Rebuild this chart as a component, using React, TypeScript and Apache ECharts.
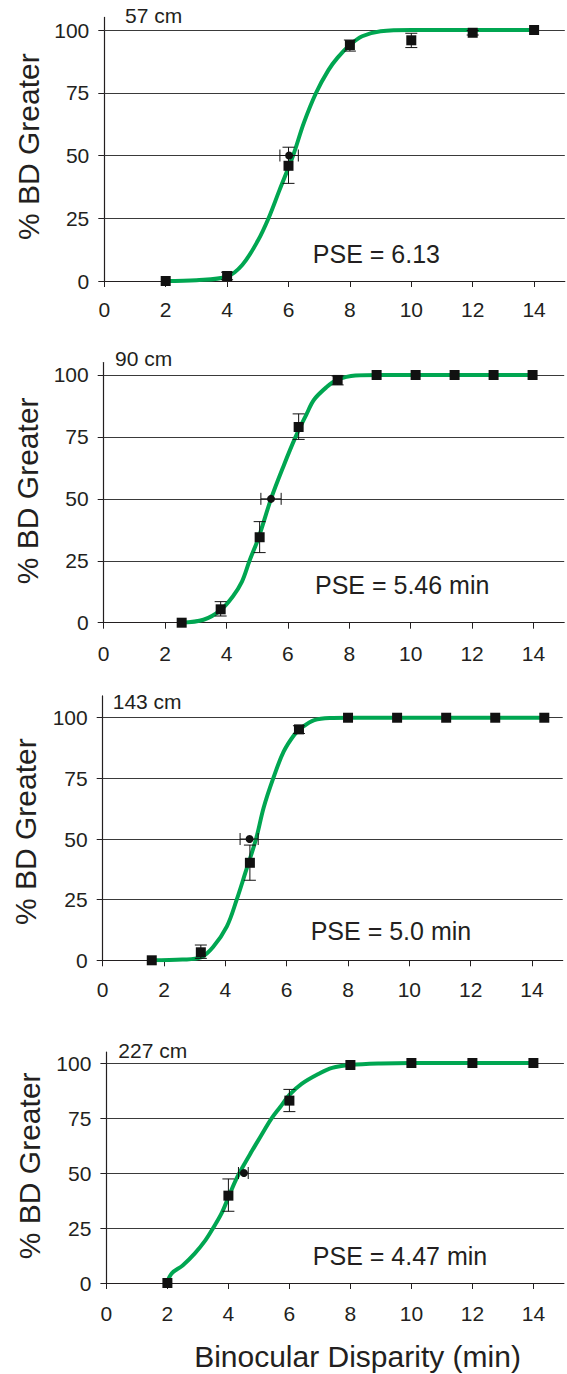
import React, { useEffect, useRef } from "react";
import * as echarts from "echarts";

// ---------- data ----------
const xTicks = [0, 2, 4, 6, 8, 10, 12, 14];
const yTicks = [0, 25, 50, 75, 100];
const gridValues = [25, 50, 75, 100];
const distanceLabels = ["57 cm", "90 cm", "143 cm", "227 cm"];
const pseLabels = ["PSE = 6.13", "PSE = 5.46 min", "PSE = 5.0 min", "PSE = 4.47 min"];
const yTitle = "% BD Greater";
const xTitle = "Binocular Disparity (min)";

// 57 cm
const curve57 = [[2, 0], [3, 0.3], [4, 1.8], [4.5, 6.5], [5, 16], [5.35, 25], [5.7, 36], [6.15, 50], [6.5, 63], [6.9, 75], [7.3, 84], [7.6, 89], [8, 94], [8.4, 97.5], [9, 99.5], [10, 100], [14, 100]];
const squares57 = [[2, 0], [4, 2], [6, 45.9], [8, 94], [10, 95.9], [12, 98.9], [14, 100]];
const errors57 = [[4, 0.5, 3.5], [6, 38.9, 53.3], [8, 91.6, 96], [10, 93, 98.7], [12, 98, 99.8]];
const pse57 = [[6.02, 50]];
const pseErr57 = [[50, 5.72, 6.32]];

// 90 cm
const curve90 = [[2.54, 0], [3.25, 1.2], [3.8, 5], [4.2, 10.5], [4.5, 16.5], [4.75, 25], [5.05, 34.5], [5.45, 50], [5.85, 63], [6.25, 75], [6.6, 84], [6.85, 90], [7.25, 95], [7.6, 98], [8.2, 99.8], [9, 100], [13.97, 100]];
const squares90 = [[2.54, 0], [3.81, 5.4], [5.08, 34.5], [6.35, 79], [7.62, 98], [8.89, 100], [10.16, 100], [11.43, 100], [12.7, 100], [13.97, 100]];
const errors90 = [[3.81, 2.7, 8.5], [5.08, 28.3, 40.8], [6.35, 74, 84.3], [7.62, 96, 99.6]];
const pse90 = [[5.45, 50]];
const pseErr90 = [[50, 5.12, 5.78]];

// 143 cm
const curve143 = [[1.6, 0], [2.6, 0.3], [3.2, 1.2], [3.6, 5.5], [4.05, 14], [4.37, 25], [4.65, 36], [5.0, 50], [5.25, 63], [5.56, 75], [5.9, 86], [6.25, 93], [6.5, 96], [6.9, 99], [7.4, 99.9], [8, 100], [14.4, 100]];
const squares143 = [[1.6, 0], [3.2, 3.3], [4.8, 40.2], [6.4, 95.2], [8, 100], [9.6, 100], [11.2, 100], [12.8, 100], [14.4, 100]];
const errors143 = [[3.2, 0.8, 6.3], [4.8, 33, 47.5], [6.4, 93.5, 96.7]];
const pse143 = [[4.79, 50]];
const pseErr143 = [[50, 4.48, 5.07]];

// 227 cm
const curve227 = [[2, 0.5], [2.15, 4.5], [2.5, 8], [2.9, 13.5], [3.25, 19.5], [3.5, 25], [3.77, 31.5], [4, 39], [4.25, 47], [4.5, 53.5], [4.75, 59.5], [5.05, 66.5], [5.4, 74.5], [5.7, 80], [6, 85.5], [6.4, 90.5], [6.95, 95], [7.4, 97.8], [8, 99.1], [9, 99.8], [10, 100], [14, 100]];
const squares227 = [[2, 0], [4, 39.7], [6, 82.9], [8, 99.1], [10, 100], [12, 100], [14, 100]];
const errors227 = [[4, 32.6, 47.3], [6, 77.9, 88]];
const pse227 = [[4.51, 50]];
const pseErr227 = [[50, 4.33, 4.65]];

// ---------- layout ----------
const panels = [
  { left: 104.3, top: 17.45, width: 460.5, height: 263.55, yMax: 105, xMargin: 18, dist: [125, 15.3], pse: [312.8, 254], yt: [28.7, 146.7],
    curve: curve57, squares: squares57, errors: errors57, psePt: pse57, pseErr: pseErr57 },
  { left: 103.7, top: 362.6, width: 460.5, height: 260.1, yMax: 105, xMargin: 20, dist: [115, 358.3], pse: [315, 585], yt: [27.5, 490.8],
    curve: curve90, squares: squares90, errors: errors90, psePt: pse90, pseErr: pseErr90 },
  { left: 102.7, top: 695.9, width: 460, height: 264.4, yMax: 109, xMargin: 19, dist: [112.7, 701.7], pse: [310.7, 930.7], yt: [25.8, 831.7],
    curve: curve143, squares: squares143, errors: errors143, psePt: pse143, pseErr: pseErr143 },
  { left: 106.4, top: 1052, width: 457.5, height: 231, yMax: 105, xMargin: 19.5, dist: [118.3, 1050.7], pse: [312.8, 1255.7], yt: [29.2, 1165.8],
    curve: curve227, squares: squares227, errors: errors227, psePt: pse227, pseErr: pseErr227 },
];

const FONT = "'Liberation Sans', Arial, Helvetica, sans-serif";
const INK = "#231f20";
const MARK = "#111111";
const GREEN = "#00a651";
const CAP = 6;

const vErr = (_p: any, api: any) => {
  const x = api.value(0), lo = api.value(1), hi = api.value(2);
  const a = api.coord([x, lo]);
  const b = api.coord([x, hi]);
  const style = { stroke: MARK, lineWidth: 1 };
  return {
    type: "group",
    children: [
      { type: "line", shape: { x1: a[0], y1: a[1], x2: b[0], y2: b[1] }, style },
      { type: "line", shape: { x1: a[0] - CAP, y1: a[1], x2: a[0] + CAP, y2: a[1] }, style },
      { type: "line", shape: { x1: b[0] - CAP, y1: b[1], x2: b[0] + CAP, y2: b[1] }, style },
    ],
  };
};

const hErr = (_p: any, api: any) => {
  const y = api.value(0), lo = api.value(1), hi = api.value(2);
  const a = api.coord([lo, y]);
  const b = api.coord([hi, y]);
  const style = { stroke: MARK, lineWidth: 1 };
  return {
    type: "group",
    children: [
      { type: "line", shape: { x1: a[0], y1: a[1], x2: b[0], y2: b[1] }, style },
      { type: "line", shape: { x1: a[0], y1: a[1] - CAP, x2: a[0], y2: a[1] + CAP }, style },
      { type: "line", shape: { x1: b[0], y1: b[1] - CAP, x2: b[0], y2: b[1] + CAP }, style },
    ],
  };
};

function buildOption() {
  const grid: any[] = [];
  const xAxis: any[] = [];
  const yAxis: any[] = [];
  const series: any[] = [];
  const graphic: any[] = [];

  panels.forEach((p, i) => {
    grid.push({ left: p.left, top: p.top, width: p.width, height: p.height, containLabel: false });
    xAxis.push({
      type: "value", gridIndex: i, min: 0, max: 15,
      splitLine: { show: false },
      axisLine: { show: true, onZero: true, lineStyle: { color: INK, width: 1.2 } },
      axisTick: { show: true, length: 6, customValues: xTicks, lineStyle: { color: INK, width: 1 } },
      axisLabel: {
        customValues: xTicks, margin: p.xMargin, fontSize: 21, color: INK, fontFamily: FONT,
        formatter: (v: number) => (v > 14 ? "" : String(v)),
      },
    });
    yAxis.push({
      type: "value", gridIndex: i, min: 0, max: p.yMax,
      splitLine: { show: false },
      axisLine: { show: true, lineStyle: { color: INK, width: 1.2 } },
      axisTick: { show: true, length: 6, customValues: yTicks, lineStyle: { color: INK, width: 1 } },
      axisLabel: {
        customValues: yTicks, margin: 15, fontSize: 21, color: INK, fontFamily: FONT,
        formatter: (v: number) => (v > 100 ? "" : String(v)),
      },
    });

    series.push({
      type: "line", xAxisIndex: i, yAxisIndex: i, data: p.curve,
      smooth: 0.35, symbol: "none", z: 2,
      lineStyle: { color: GREEN, width: 4 },
      markLine: {
        silent: true, symbol: ["none", "none"], z: 1, animation: false,
        label: { show: false },
        lineStyle: { color: "#3a3a3a", width: 1.2, type: "solid" },
        emphasis: { disabled: true },
        data: gridValues.map((v) => ({ yAxis: v })),
      },
    });
    series.push({
      type: "custom", xAxisIndex: i, yAxisIndex: i, data: p.errors,
      encode: { x: 0, y: [1, 2] }, renderItem: vErr, z: 3, silent: true,
    });
    series.push({
      type: "custom", xAxisIndex: i, yAxisIndex: i, data: p.pseErr,
      encode: { x: [1, 2], y: 0 }, renderItem: hErr, z: 3, silent: true,
    });
    series.push({
      type: "scatter", xAxisIndex: i, yAxisIndex: i, data: p.squares,
      symbol: "rect", symbolSize: 10, itemStyle: { color: MARK, opacity: 1 }, z: 4,
    });
    series.push({
      type: "scatter", xAxisIndex: i, yAxisIndex: i, data: p.psePt,
      symbol: "circle", symbolSize: 8, itemStyle: { color: MARK, opacity: 1 }, z: 4,
    });

    graphic.push({
      type: "text", x: p.dist[0], y: p.dist[1],
      style: { text: distanceLabels[i], fontSize: 21, fill: INK, fontFamily: FONT, align: "left", verticalAlign: "middle" },
    });
    graphic.push({
      type: "text", x: p.pse[0], y: p.pse[1],
      style: { text: pseLabels[i], fontSize: 25, fill: INK, fontFamily: FONT, align: "left", verticalAlign: "middle" },
    });
    graphic.push({
      type: "text", x: p.yt[0], y: p.yt[1], rotation: Math.PI / 2,
      style: { text: yTitle, fontSize: 30, fill: INK, fontFamily: FONT, align: "center", verticalAlign: "middle" },
    });
  });

  graphic.push({
    type: "text", x: 357.5, y: 1356.7,
    style: { text: xTitle, fontSize: 30, fill: INK, fontFamily: FONT, align: "center", verticalAlign: "middle" },
  });

  return {
    animation: false,
    backgroundColor: "#ffffff",
    textStyle: { fontFamily: FONT },
    grid, xAxis, yAxis, series, graphic,
  };
}

export default function App() {
  const ref = useRef<HTMLDivElement>(null);
  useEffect(() => {
    if (!ref.current) return;
    const chart = echarts.init(ref.current, undefined, { renderer: "svg" });
    chart.setOption(buildOption() as any);
    return () => chart.dispose();
  }, []);
  return (
    <div
      ref={ref}
      style={{ position: "absolute", left: 0, top: 0, width: 567, height: 1374, background: "#fff" }}
    />
  );
}
